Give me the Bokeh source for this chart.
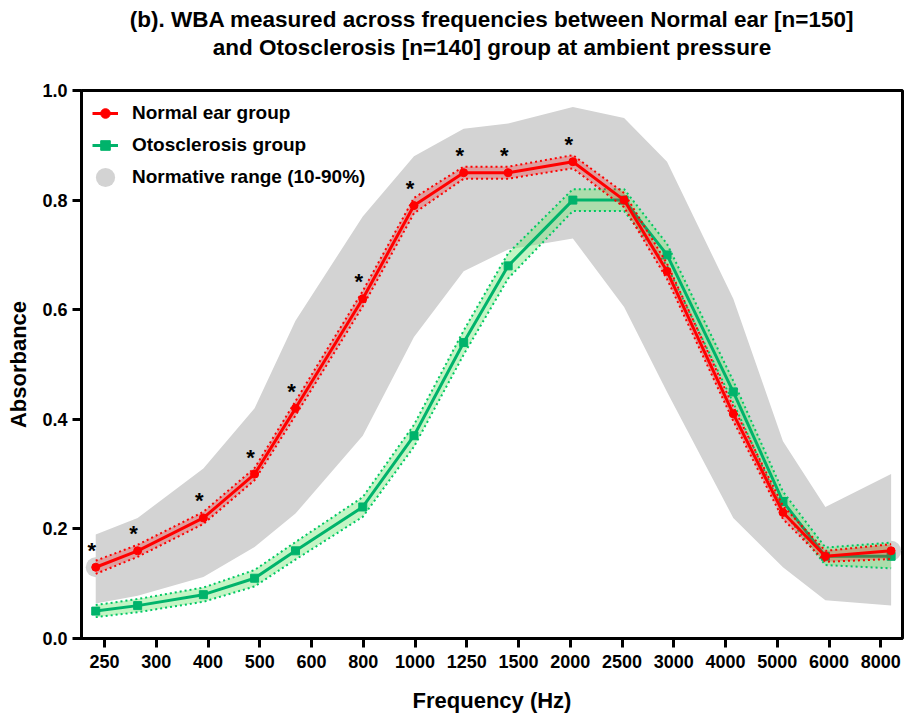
from bokeh.plotting import figure
from bokeh.models import (FixedTicker, Title, Legend, LegendItem, ColumnDataSource,
                          NumeralTickFormatter, Range1d)
from bokeh.embed import file_html
from bokeh.resources import INLINE
from bokeh.core.properties import value

# ---------------- data ----------------
tick_labels = ["250", "300", "400", "500", "600", "800", "1000", "1250", "1500",
               "2000", "2500", "3000", "4000", "5000", "6000", "8000"]
# position of each measured frequency on the (evenly spaced) tick scale
x_pos = [-0.17, 0.64, 1.91, 2.90, 3.69, 4.99, 5.98, 6.94, 7.80, 9.05,
         10.04, 10.87, 12.15, 13.11, 13.93, 15.20]

normal_mean = [0.13, 0.16, 0.22, 0.30, 0.42, 0.62, 0.79, 0.85, 0.85, 0.87,
               0.80, 0.67, 0.41, 0.23, 0.15, 0.16]
normal_lo = [0.118, 0.149, 0.209, 0.289, 0.407, 0.606, 0.776, 0.839, 0.839, 0.858,
             0.787, 0.656, 0.397, 0.218, 0.140, 0.145]
normal_hi = [0.142, 0.171, 0.231, 0.311, 0.433, 0.634, 0.804, 0.861, 0.861, 0.882,
             0.813, 0.684, 0.423, 0.242, 0.160, 0.172]

oto_mean = [0.05, 0.06, 0.08, 0.11, 0.16, 0.24, 0.37, 0.54, 0.68, 0.80,
            0.80, 0.70, 0.45, 0.25, 0.15, 0.15]
oto_lo = [0.039, 0.048, 0.067, 0.095, 0.144, 0.222, 0.350, 0.518, 0.657, 0.780,
          0.780, 0.680, 0.430, 0.232, 0.134, 0.128]
oto_hi = [0.061, 0.072, 0.093, 0.125, 0.176, 0.258, 0.390, 0.562, 0.703, 0.820,
          0.820, 0.720, 0.470, 0.268, 0.166, 0.175]

norm_p10 = [0.064, 0.078, 0.112, 0.167, 0.228, 0.37, 0.55, 0.67, 0.71, 0.73,
            0.605, 0.45, 0.22, 0.13, 0.07, 0.06]
norm_p90 = [0.19, 0.22, 0.31, 0.42, 0.58, 0.77, 0.88, 0.93, 0.94, 0.97,
            0.95, 0.87, 0.62, 0.36, 0.24, 0.30]

significant = [1, 1, 1, 1, 1, 1, 1, 1, 1, 1, 0, 0, 0, 0, 0, 0]

y_ticks = [0.0, 0.2, 0.4, 0.6, 0.8, 1.0]

title_line1 = "(b). WBA measured across frequencies between Normal ear [n=150]"
title_line2 = "and Otosclerosis [n=140] group at ambient pressure"

# ---------------- styling ----------------
FONT = "Liberation Sans"
RED = "#ff0000"
GREEN = "#00b36b"
GREEN_DOT = "#00c864"
GRAY = "#d3d3d3"

src = ColumnDataSource(dict(x=x_pos, nm=normal_mean, nlo=normal_lo, nhi=normal_hi,
                            om=oto_mean, olo=oto_lo, ohi=oto_hi,
                            p10=norm_p10, p90=norm_p90))
star_src = ColumnDataSource(dict(
    x=[xv for xv, s in zip(x_pos, significant) if s],
    y=[yv for yv, s in zip(normal_mean, significant) if s],
    t=["*" for s in significant if s]))

p = figure(width=904, height=717, output_backend="svg", toolbar_location=None,
           title=None, x_range=Range1d(-0.445, 15.42), y_range=Range1d(0, 1.0),
           min_border_left=81, min_border_right=2, min_border_top=90,
           min_border_bottom=79)

# normative range
gray_pts = p.ellipse(x="x", y="nm", width=20, height=20, width_units="screen",
                     height_units="screen", source=src, fill_color=GRAY, line_color=None)
p.varea(x="x", y1="p10", y2="p90", source=src, fill_color=GRAY)

# otosclerosis
p.varea(x="x", y1="olo", y2="ohi", source=src, fill_color="#7de87d", fill_alpha=0.45)
p.line(x="x", y="olo", source=src, line_color=GREEN_DOT, line_width=2, line_dash="2 3")
p.line(x="x", y="ohi", source=src, line_color=GREEN_DOT, line_width=2, line_dash="2 3")
g_line = p.line(x="x", y="om", source=src, line_color=GREEN, line_width=3)
g_pts = p.scatter(x="x", y="om", source=src, marker="square", size=8,
                  fill_color=GREEN, line_color=GREEN)

# normal
p.varea(x="x", y1="nlo", y2="nhi", source=src, fill_color=RED, fill_alpha=0.25)
p.line(x="x", y="nlo", source=src, line_color=RED, line_width=2, line_dash="2 3")
p.line(x="x", y="nhi", source=src, line_color=RED, line_width=2, line_dash="2 3")
r_line = p.line(x="x", y="nm", source=src, line_color=RED, line_width=3)
r_pts = p.scatter(x="x", y="nm", source=src, marker="circle", size=8,
                  fill_color=RED, line_color=RED)

# significance stars
p.text(x="x", y="y", text="t", source=star_src, text_font=value(FONT),
       text_font_size="22px", text_font_style="bold", text_color="black",
       text_align="center", text_baseline="middle", x_offset=-4, y_offset=-17)

# axes
p.xgrid.visible = False
p.ygrid.visible = False
p.xaxis.ticker = FixedTicker(ticks=list(range(len(tick_labels))))
p.xaxis.major_label_overrides = {i: lab for i, lab in enumerate(tick_labels)}
p.yaxis.ticker = FixedTicker(ticks=y_ticks)
p.yaxis.formatter = NumeralTickFormatter(format="0.0")
for ax in (p.xaxis[0], p.yaxis[0]):
    ax.axis_line_width = 3
    ax.axis_line_color = "black"
    ax.major_tick_line_width = 3
    ax.major_tick_line_color = "black"
    ax.major_tick_out = 9
    ax.major_tick_in = 0
    ax.minor_tick_line_color = None
    ax.major_label_text_font = FONT
    ax.major_label_text_font_size = "18px"
    ax.major_label_text_font_style = "bold"
    ax.major_label_text_color = "black"
    ax.axis_label_text_font = FONT
    ax.axis_label_text_font_size = "22px"
    ax.axis_label_text_font_style = "bold"
    ax.axis_label_text_color = "black"
p.xaxis.axis_label = "Frequency (Hz)"
p.yaxis.axis_label = "Absorbance"
p.xaxis.major_label_standoff = 7
p.yaxis.major_label_standoff = 5
p.xaxis.axis_label_standoff = 17
p.yaxis.axis_label_standoff = 8

p.outline_line_color = "black"
p.outline_line_width = 3

# titles: blank spacer nearest the plot, then line 2, then line 1
p.add_layout(Title(text=" ", align="center", text_font=FONT,
                   text_font_size="22.5px", standoff=3), "above")
p.add_layout(Title(text=title_line2, align="center", text_font=FONT,
                   text_font_size="22.5px", text_font_style="bold",
                   text_color="black", standoff=1), "above")
p.add_layout(Title(text=title_line1, align="center", text_font=FONT,
                   text_font_size="22.5px", text_font_style="bold",
                   text_color="black", standoff=1), "above")

legend = Legend(items=[
    LegendItem(label="Normal ear group", renderers=[r_line, r_pts]),
    LegendItem(label="Otosclerosis group", renderers=[g_line, g_pts]),
    LegendItem(label="Normative range (10-90%)", renderers=[gray_pts]),
], location="top_left")
legend.border_line_alpha = 0
legend.background_fill_alpha = 0
legend.label_text_font = FONT
legend.label_text_font_size = "19px"
legend.label_text_font_style = "bold"
legend.label_text_color = "black"
legend.glyph_width = 26
legend.glyph_height = 24
legend.label_height = 24
legend.spacing = 8
legend.margin = 6
legend.padding = 5
legend.label_standoff = 14
p.add_layout(legend)

open("out.html", "w").write(file_html(p, INLINE))
